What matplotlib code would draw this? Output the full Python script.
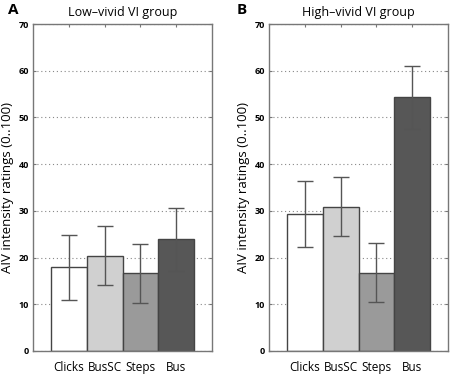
import matplotlib
matplotlib.use("Agg")
import matplotlib.pyplot as plt
import numpy as np

# bar data
conditions = ["Clicks", "BusSC", "Steps", "Bus"]
low_means = [17.9, 20.4, 16.6, 23.9]
low_err = [7.0, 6.3, 6.3, 6.7]
high_means = [29.3, 30.9, 16.8, 54.3]
high_err = [7.0, 6.3, 6.3, 6.7]
bar_colors = ["#ffffff", "#d0d0d0", "#9a9a9a", "#575757"]

plt.rcParams["font.family"] = ["Open Sans", "DejaVu Sans"]

fig = plt.figure(figsize=(4.54, 3.75), dpi=100)
ax_a = fig.add_axes([33 / 454, 24 / 375, 179 / 454, 327 / 375])
ax_b = fig.add_axes([269 / 454, 24 / 375, 179 / 454, 327 / 375])

x = np.arange(1, len(conditions) + 1)

for ax, means, err, title, letter, lx in [
    (ax_a, low_means, low_err, "Low\u2013vivid VI group", "A", 13),
    (ax_b, high_means, high_err, "High\u2013vivid VI group", "B", 242),
]:
    ax.bar(x, means, width=1.0, color=bar_colors, edgecolor="#444444",
           linewidth=1.0, zorder=2)
    ax.errorbar(x, means, yerr=err, fmt="none", ecolor="#555555",
                elinewidth=1.0, capsize=5.5, capthick=1.0, zorder=3)
    ax.set_xlim(0, 5)
    ax.set_ylim(0, 70)
    ax.set_xticks(x)
    ax.set_xticklabels(conditions, fontsize=8.5)
    ax.set_yticks(np.arange(0, 71, 10))
    ax.tick_params(axis="y", labelsize=6.5, direction="in", length=2,
                   right=True, color="#777777", pad=3)
    ax.tick_params(axis="x", direction="in", length=2, top=True,
                   color="#777777", pad=7)
    for lbl in ax.get_yticklabels():
        lbl.set_fontweight("bold")
    ax.yaxis.grid(True, linestyle=(0, (1, 2.5)), color="#888888",
                  linewidth=0.8, zorder=0)
    ax.set_axisbelow(True)
    for s in ax.spines.values():
        s.set_color("#777777")
        s.set_linewidth(1.0)
    ax.set_ylabel("AIV intensity ratings (0..100)", fontsize=9.5, labelpad=3)
    ax.set_title(title, fontsize=9, pad=6)
    fig.text(lx / 454, 1 - 3 / 375, letter, fontsize=11,
             fontweight="bold", ha="center", va="top")

fig.savefig("out.png", dpi=100)
